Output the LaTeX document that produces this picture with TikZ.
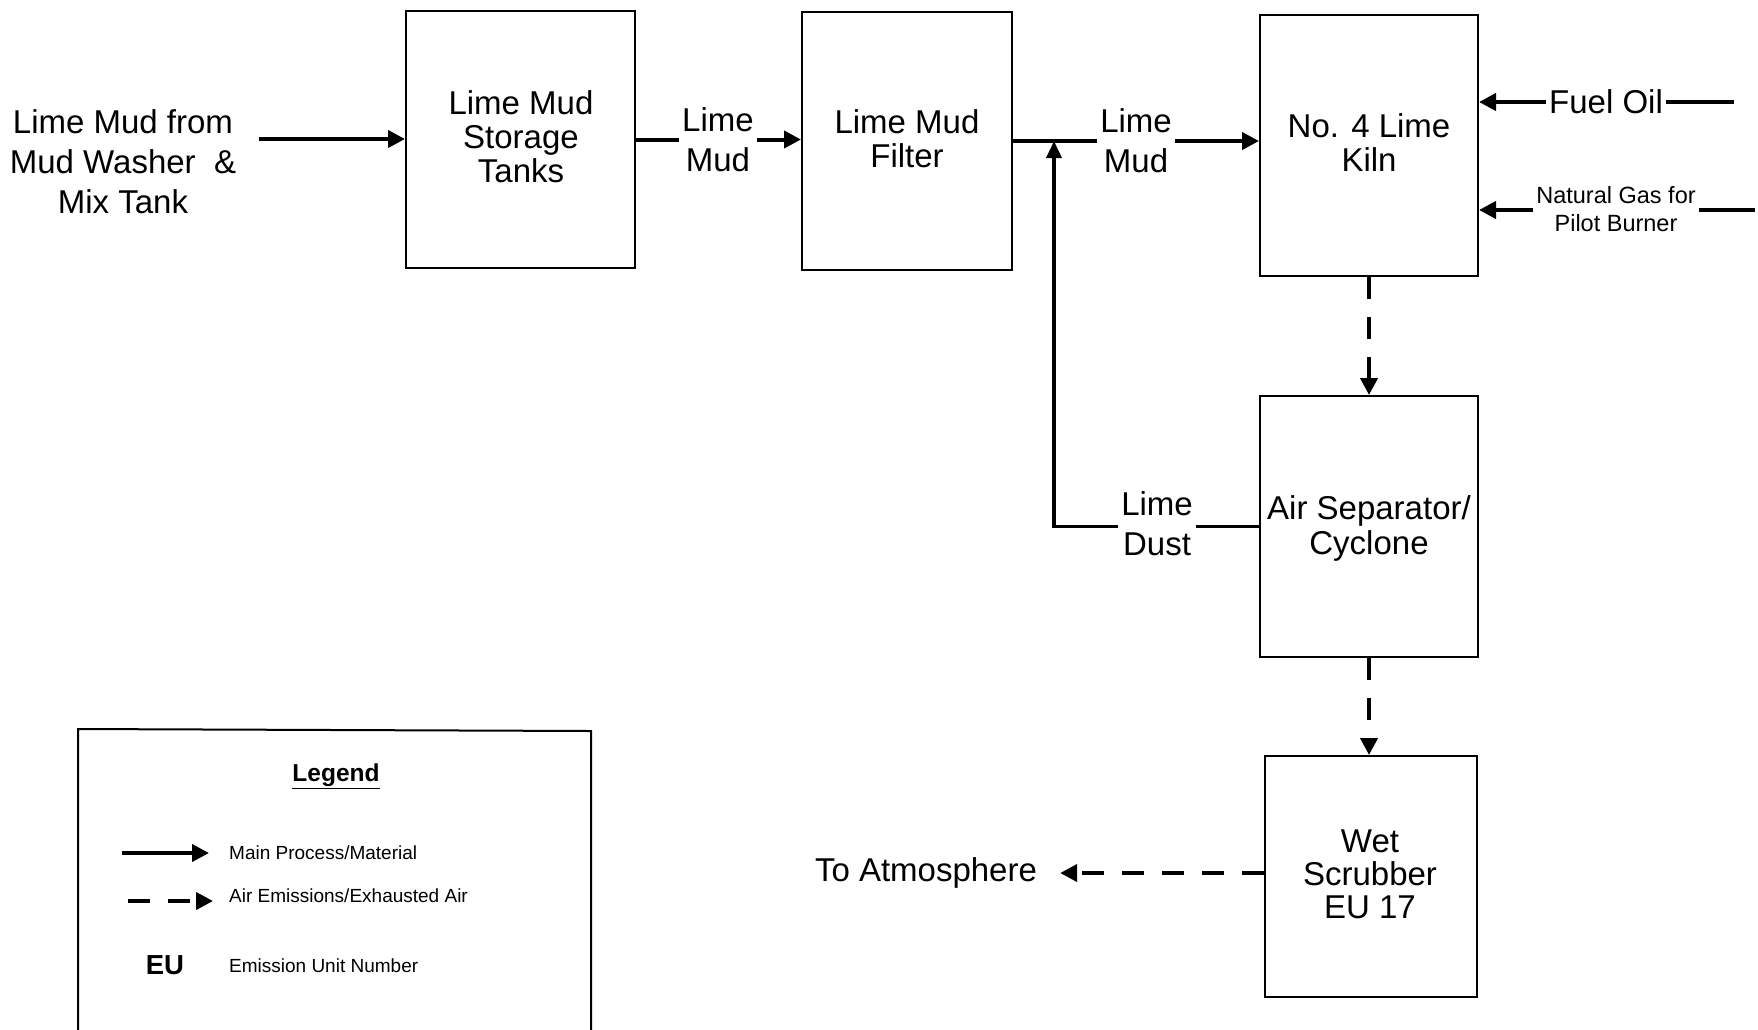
\documentclass[tikz,border=0pt]{standalone}
\usepackage{fontspec}
\setmainfont{Liberation Sans}
\usetikzlibrary{arrows.meta}
\tikzset{
  box/.style={draw, line width=2pt, rectangle, inner sep=0pt},
  txt/.style={align=center, inner sep=3pt, font=\fontsize{33}{40}\selectfont},
  flow/.style={line width=4pt},
  flowarrow/.style={line width=4pt, -{Triangle[length=17pt,width=17pt]}},
  airarrow/.style={line width=4pt, dash pattern=on 22pt off 18pt, -{Triangle[length=17pt,width=17pt]}},
  legtxt/.style={anchor=west, inner sep=0pt, font=\fontsize{19}{22}\selectfont},
}
\begin{document}
\begin{tikzpicture}[x=1pt,y=-1pt]
\useasboundingbox (0,0) rectangle (1758,1029);
\clip (0,0) rectangle (1758,1029);
\fill[white] (0,0) rectangle (1758,1029);

% boxes
\node[box, minimum width=229pt, minimum height=257pt] (stor) at (520.5,139.5) {};
\node[box, minimum width=210pt, minimum height=258pt] (filt) at (907,141) {};
\node[box, minimum width=218pt, minimum height=261pt] (kiln) at (1369,145.5) {};
\node[box, minimum width=218pt, minimum height=261pt] (sep) at (1369,526.5) {};
\node[box, minimum width=212pt, minimum height=241pt] (scrub) at (1371,876.5) {};

% texts
\node[txt] (src) at (123,162) {Lime Mud from\\Mud Washer \ \&\\Mix Tank};
\node[txt, font=\fontsize{33}{34}\selectfont] (stortxt) at (521,137) {Lime Mud\\Storage\\Tanks};
\node[txt, font=\fontsize{33}{34}\selectfont] (filttxt) at (907,139) {Lime Mud\\Filter};
\node[txt, font=\fontsize{33}{34}\selectfont] (kilntxt) at (1369,143) {No. 4 Lime\\Kiln};
\node[txt, font=\fontsize{33}{35}\selectfont] (septxt) at (1369,528) {Air Separator/\\Cyclone};
\node[txt, font=\fontsize{33}{33}\selectfont] (scrubtxt) at (1370,874) {Wet\\Scrubber\\EU 17};
\node[txt] (lm1) at (718,140) {Lime\\Mud};
\node[txt] (lm2) at (1136,141) {Lime\\Mud};
\node[txt] (ld) at (1157,524) {Lime\\Dust};
\node[txt] (fo) at (1606,102) {Fuel Oil};
\node[txt, font=\fontsize{23.5}{28}\selectfont] (ng) at (1616,209) {Natural Gas for\\Pilot Burner};
\node[txt] (atm) at (926,873) {To Atmosphere};

% coordinates
\coordinate (srcend) at (259,139);
\coordinate (jn) at (1054,141);
\coordinate (foend) at (1734,102);
\coordinate (ngend) at (1755,210);

% main flow
\draw[flowarrow] (srcend) -- (srcend -| stor.west);
\draw[flow] (stor.east) -- (stor.east -| lm1.west);
\draw[flowarrow] (lm1.east |- stor.east) -- (lm1.east |- stor.east -| filt.west);
\draw[flow] (filt.east) -- (filt.east -| lm2.west);
\draw[flowarrow] (lm2.east |- filt.east) -- (lm2.east |- filt.east -| kiln.west);
\draw[line width=3.5pt] (sep.west) -- (ld.east |- sep.west);
\draw[line width=3.5pt, -{Triangle[length=17pt,width=15pt]}] (ld.west |- sep.west) -| (jn);
\draw[flowarrow] (fo.west) -- (fo.west -| kiln.east);
\draw[flow] (fo.east) -- (foend);
\draw[flowarrow] (ng.west |- ngend) -- (ngend -| kiln.east);
\draw[flow] (ng.east |- ngend) -- (ngend);

% air flow
\draw[airarrow] (kiln.south) -- (sep.north);
\draw[airarrow] (sep.south) -- (sep.south |- scrub.north);
\draw[airarrow, shorten >=20pt] (scrub.west |- atm.east) -- (atm.east);

% legend
\draw[line width=2pt] (78,1032) -- (78,729) -- (591,731) -- (591,1032);
\node[inner sep=0pt, font=\fontsize{24.5}{28}\selectfont\bfseries] (legt) at (336,776) {\underline{Legend}};
\coordinate (l1a) at (122,853);
\coordinate (l1b) at (209,853);
\coordinate (l2a) at (128,901);
\coordinate (l2b) at (213,901);
\draw[flowarrow] (l1a) -- (l1b);
\draw[airarrow] (l2a) -- (l2b);
\node[legtxt] (leg1) at (229,853) {Main Process/Material};
\node[legtxt] (leg2) at (229,896) {Air Emissions/Exhausted Air};
\node[inner sep=0pt, font=\fontsize{27.5}{30}\selectfont\bfseries] (eu) at (165,965) {EU};
\node[legtxt] (leg3) at (229,966) {Emission Unit Number};
\end{tikzpicture}
\end{document}
